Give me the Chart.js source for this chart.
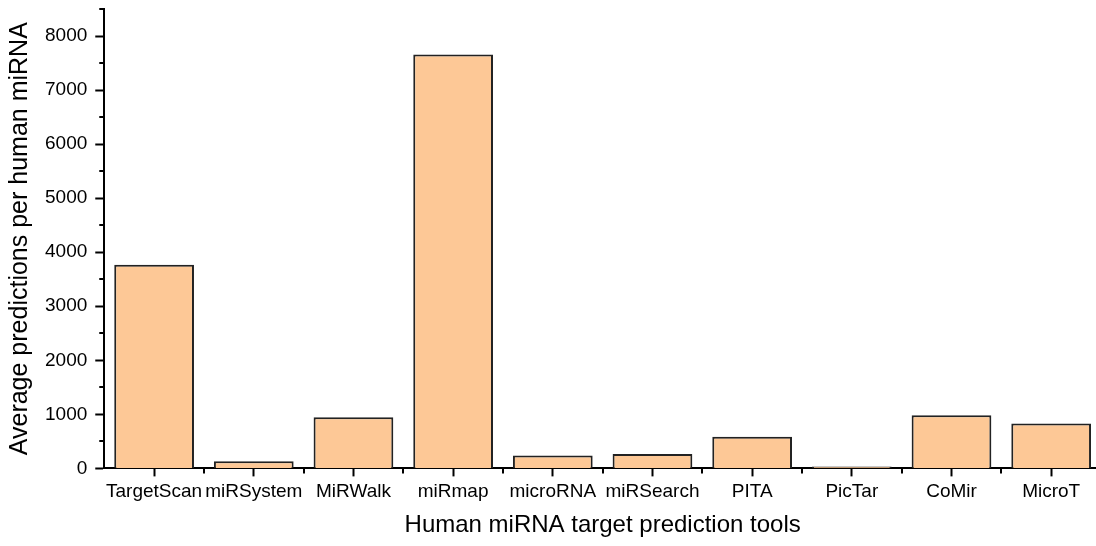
<!DOCTYPE html>
<html>
<head>
<meta charset="utf-8">
<script src="https://cdn.jsdelivr.net/npm/chart.js@4/dist/chart.umd.min.js"></script>
<style>
  html, body { margin: 0; padding: 0; background: #fff; overflow: hidden; }
  #wrap { position: relative; width: 1106px; height: 546px; }
</style>
</head>
<body>
<div id="wrap"><canvas id="c"></canvas></div>
<script>
const categories = ["TargetScan", "miRSystem", "MiRWalk", "miRmap", "microRNA", "miRSearch", "PITA", "PicTar", "CoMir", "MicroT"];
const values = [3770, 130, 945, 7660, 240, 265, 585, 35, 985, 830];
const yTickValues = [0, 1000, 2000, 3000, 4000, 5000, 6000, 7000, 8000];
const yMinorValues = [500, 1500, 2500, 3500, 4500, 5500, 6500, 7500, 8500];
const yTitle = "Average predictions per human miRNA";
const xTitle = "Human miRNA target prediction tools";
const yMin = 0, yMax = 8500;

const FONT = "'Liberation Sans', Arial, sans-serif";

const minorTicks = {
  id: 'minorTicks',
  afterDraw(chart) {
    const ctx = chart.ctx;
    const y = chart.scales.y, x = chart.scales.x;
    ctx.save();
    ctx.strokeStyle = '#000';
    ctx.lineWidth = 2;
    yMinorValues.forEach(v => {
      const py = Math.round(y.getPixelForValue(v));
      ctx.beginPath();
      ctx.moveTo(y.right - 5, py);
      ctx.lineTo(y.right, py);
      ctx.stroke();
    });
    for (let i = 1; i <= categories.length; i++) {
      const px = Math.round(x.getPixelForValue(i - 0.5));
      ctx.beginPath();
      ctx.moveTo(px, x.top);
      ctx.lineTo(px, x.top + 5);
      ctx.stroke();
    }
    ctx.restore();
  }
};

new Chart(document.getElementById('c'), {
  type: 'bar',
  data: {
    labels: categories,
    datasets: [{
      data: values,
      backgroundColor: 'rgb(253,200,150)',
      borderColor: '#222',
      borderWidth: 2,
      barPercentage: 0.8,
      categoryPercentage: 1.0
    }]
  },
  options: {
    responsive: true,
    maintainAspectRatio: false,
    animation: false,
    layout: { padding: { top: 9, right: 5, bottom: 6, left: 5 } },
    plugins: { legend: { display: false }, tooltip: { enabled: false } },
    scales: {
      x: {
        offset: true,
        grid: { display: true, drawOnChartArea: false, offset: false, tickLength: 8, tickColor: '#000', tickWidth: 2 },
        border: { display: true, color: '#000', width: 2 },
        ticks: { color: '#000', font: { family: FONT, size: 19 }, autoSkip: false, maxRotation: 0, padding: 4 },
        title: { display: true, text: xTitle, color: '#000', font: { family: FONT, size: 24 }, padding: { top: 4, bottom: 0 } }
      },
      y: {
        min: yMin, max: yMax,
        afterBuildTicks: (scale) => { scale.ticks = yTickValues.map(v => ({ value: v })); },
        grid: { display: true, drawOnChartArea: false, tickLength: 9, tickColor: '#000', tickWidth: 2 },
        border: { display: true, color: '#000', width: 2 },
        ticks: { color: '#000', font: { family: FONT, size: 19, lineHeight: 0.05 }, padding: 8, callback: (v) => String(v) },
        title: { display: true, text: yTitle, color: '#000', font: { family: FONT, size: 25 }, padding: { top: 0, bottom: 2 } }
      }
    }
  },
  plugins: [minorTicks]
});
</script>
</body>
</html>
